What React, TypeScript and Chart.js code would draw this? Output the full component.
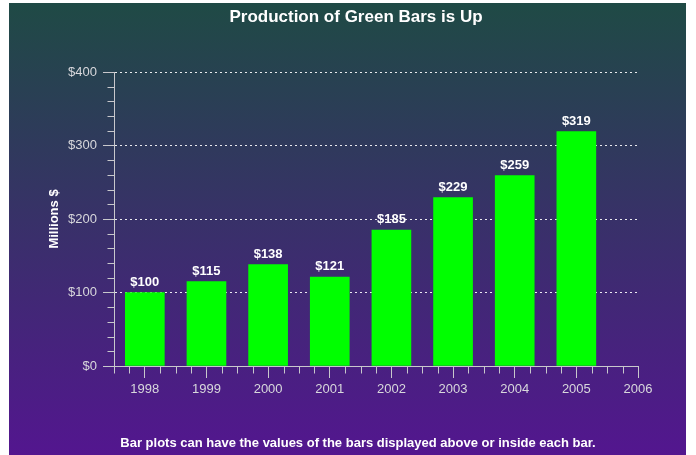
import React, { useEffect, useRef } from 'react';
import { Chart, registerables } from 'chart.js';

Chart.register(...registerables);

const years = [1998, 1999, 2000, 2001, 2002, 2003, 2004, 2005];
const values = [100, 115, 138, 121, 185, 229, 259, 319];
const xTickValues = [1998, 1999, 2000, 2001, 2002, 2003, 2004, 2005, 2006];
const yTickValues = [0, 100, 200, 300, 400];
const titleText = 'Production of Green Bars is Up';
const footerText = 'Bar plots can have the values of the bars displayed above or inside each bar.';
const yAxisTitle = 'Millions $';
const xMin = 1997.5;
const xMax = 2006;
const yMin = 0;
const yMax = 400;

const FONT = 'Arial, "Liberation Sans", sans-serif';
const AXIS_COLOR = '#c8c8cc';
const LABEL_COLOR = '#d8d8dc';

export default function App() {
  const ref = useRef<HTMLCanvasElement>(null);

  useEffect(() => {
    const canvas = ref.current;
    if (!canvas) return;

    const bgPlugin = {
      id: 'bgPlugin',
      beforeDraw(chart: any) {
        const ctx = chart.ctx;
        ctx.save();
        ctx.fillStyle = '#ffffff';
        ctx.fillRect(0, 0, chart.width, chart.height);
        const g = ctx.createLinearGradient(0, 3, 0, 455);
        g.addColorStop(0, '#1f4a45');
        g.addColorStop(1, '#53168f');
        ctx.fillStyle = g;
        ctx.fillRect(9, 3, 677, 452);
        ctx.restore();
      },
    };

    const decoPlugin = {
      id: 'decoPlugin',
      afterDraw(chart: any) {
        const ctx = chart.ctx;
        const xs = chart.scales.x;
        const ys = chart.scales.y;
        ctx.save();
        ctx.strokeStyle = AXIS_COLOR;
        ctx.lineWidth = 1;
        ctx.setLineDash([]);
        const yBase = Math.round(ys.getPixelForValue(0)) + 0.5;
        for (let v = xMin; v <= xMax + 1e-9; v += 0.25) {
          if (Math.abs(v - Math.round(v)) < 1e-9) continue;
          const px = Math.round(xs.getPixelForValue(v)) + 0.5;
          ctx.beginPath();
          ctx.moveTo(px, yBase);
          ctx.lineTo(px, yBase + 7);
          ctx.stroke();
        }
        const xBase = Math.round(xs.getPixelForValue(xMin)) + 0.5;
        for (let v = yMin; v <= yMax; v += 20) {
          if (v % 100 === 0) continue;
          const py = Math.round(ys.getPixelForValue(v)) + 0.5;
          ctx.beginPath();
          ctx.moveTo(xBase, py);
          ctx.lineTo(xBase - 7, py);
          ctx.stroke();
        }
        ctx.fillStyle = '#ffffff';
        ctx.textAlign = 'center';
        ctx.textBaseline = 'middle';
        ctx.font = `bold 17px ${FONT}`;
        ctx.fillText(titleText, 356, 17);
        ctx.font = `bold 13px ${FONT}`;
        ctx.fillText(footerText, 358, 443);
        ctx.restore();
      },
      afterDatasetsDraw(chart: any) {
        const ctx = chart.ctx;
        const meta = chart.getDatasetMeta(0);
        ctx.save();
        ctx.fillStyle = '#ffffff';
        ctx.textAlign = 'center';
        ctx.textBaseline = 'bottom';
        ctx.font = `bold 13px ${FONT}`;
        meta.data.forEach((bar: any, i: number) => {
          ctx.fillText('$' + values[i], bar.x, bar.y - 4);
        });
        ctx.restore();
      },
    };

    const chart = new Chart(canvas, {
      type: 'bar',
      data: {
        datasets: [
          {
            data: years.map((y, i) => ({ x: y, y: values[i] })),
            backgroundColor: '#00ff00',
            borderWidth: 0,
            barThickness: 39,
          },
        ],
      },
      options: {
        responsive: false,
        animation: false,
        events: [],
        layout: { padding: { left: 0, right: 58, top: 72, bottom: 59 } },
        plugins: {
          legend: { display: false },
          tooltip: { enabled: false },
          title: { display: false },
        },
        scales: {
          x: {
            type: 'linear',
            min: xMin,
            max: xMax,
            offset: false,
            afterBuildTicks: (scale: any) => {
              scale.ticks = xTickValues.map((v) => ({ value: v }));
            },
            afterFit: (scale: any) => {
              scale.height = 30;
            },
            ticks: {
              color: LABEL_COLOR,
              font: { family: FONT, size: 13 },
              padding: 4,
              maxRotation: 0,
              autoSkip: false,
              callback: (v: any) => String(v),
            },
            grid: {
              display: true,
              drawOnChartArea: false,
              drawTicks: true,
              tickLength: 12,
              tickColor: AXIS_COLOR,
              tickBorderDash: [],
              offset: false,
            },
            border: { display: true, color: AXIS_COLOR, width: 1 },
          },
          y: {
            type: 'linear',
            min: yMin,
            max: yMax,
            afterBuildTicks: (scale: any) => {
              scale.ticks = yTickValues.map((v) => ({ value: v }));
            },
            afterFit: (scale: any) => {
              scale.width = 114;
            },
            ticks: {
              color: LABEL_COLOR,
              font: { family: FONT, size: 13 },
              padding: 6,
              callback: (v: any) => '$' + v,
            },
            grid: {
              display: true,
              drawOnChartArea: true,
              drawTicks: true,
              tickLength: 11,
              tickColor: AXIS_COLOR,
              tickBorderDash: [],
              color: (c: any) => (c.tick && c.tick.value === 0 ? 'rgba(0,0,0,0)' : 'rgba(255,255,255,0.9)'),
              lineWidth: 1,
            },
            border: { display: true, color: AXIS_COLOR, width: 1, dash: [2, 3] },
            title: {
              display: true,
              text: yAxisTitle,
              color: '#ffffff',
              font: { family: FONT, size: 13, weight: 'bold' },
              padding: { top: 47, bottom: 0 },
            },
          },
        },
      },
      plugins: [bgPlugin, decoPlugin],
    } as any);

    return () => {
      chart.destroy();
    };
  }, []);

  return (
    <div style={{ position: 'fixed', left: 0, top: 0, width: 696, height: 455 }}>
      <canvas ref={ref} width={696} height={455} style={{ display: 'block', width: 696, height: 455 }} />
    </div>
  );
}
